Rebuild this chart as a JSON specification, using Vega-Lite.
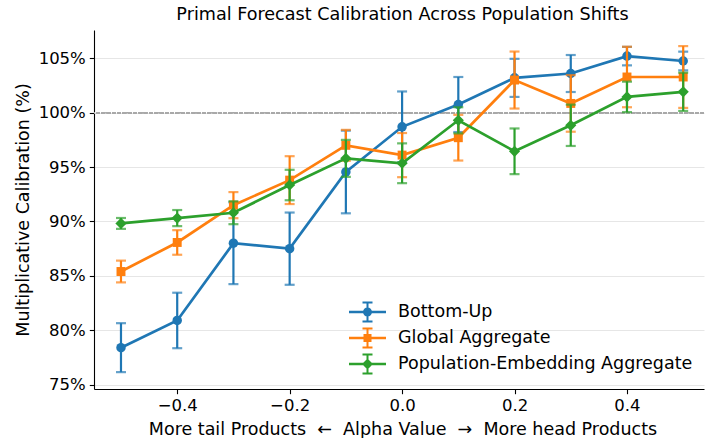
{
  "$schema": "https://vega.github.io/schema/vega-lite/v6.json",
  "width": 610,
  "height": 359,
  "padding": {"left": 14, "top": 6, "right": 0, "bottom": 0},
  "background": "white",
  "title": {
    "text": "Primal Forecast Calibration Across Population Shifts",
    "font": "DejaVu Sans",
    "fontSize": 17.6,
    "fontWeight": "normal",
    "color": "#000000",
    "offset": 6,
    "dx": 3.5
  },
  "config": {
    "view": {"stroke": null},
    "font": "DejaVu Sans",
    "axis": {
      "labelFont": "DejaVu Sans",
      "titleFont": "DejaVu Sans",
      "labelFontSize": 16.5,
      "titleFontSize": 17.5,
      "titleFontWeight": "normal",
      "labelColor": "#000000",
      "titleColor": "#000000",
      "domainColor": "#000000",
      "tickColor": "#000000",
      "domainWidth": 1.1,
      "tickWidth": 1.1,
      "tickSize": 4.7,
      "labelPadding": 4,
      "gridColor": "#e6e6e6",
      "gridWidth": 1
    },
    "legend": {
      "labelFont": "DejaVu Sans",
      "labelFontSize": 17.5,
      "labelColor": "#000000",
      "labelLimit": 400
    }
  },
  "resolve": {"legend": {"color": "independent", "shape": "independent"}},
  "data": {
    "values": [
      {"series": "Bottom-Up", "alpha": -0.5, "value": 78.4, "err": 2.25},
      {"series": "Bottom-Up", "alpha": -0.4, "value": 80.9, "err": 2.55},
      {"series": "Bottom-Up", "alpha": -0.3, "value": 88.0, "err": 3.76},
      {"series": "Bottom-Up", "alpha": -0.2, "value": 87.5, "err": 3.32},
      {"series": "Bottom-Up", "alpha": -0.1, "value": 94.55, "err": 3.8},
      {"series": "Bottom-Up", "alpha": 0.0, "value": 98.7, "err": 3.25},
      {"series": "Bottom-Up", "alpha": 0.1, "value": 100.75, "err": 2.53},
      {"series": "Bottom-Up", "alpha": 0.2, "value": 103.2, "err": 1.75},
      {"series": "Bottom-Up", "alpha": 0.3, "value": 103.6, "err": 1.7},
      {"series": "Bottom-Up", "alpha": 0.4, "value": 105.2, "err": 0.85},
      {"series": "Bottom-Up", "alpha": 0.5, "value": 104.75, "err": 0.86},
      {"series": "Global Aggregate", "alpha": -0.5, "value": 85.4, "err": 1.0},
      {"series": "Global Aggregate", "alpha": -0.4, "value": 88.07, "err": 1.13},
      {"series": "Global Aggregate", "alpha": -0.3, "value": 91.5, "err": 1.2},
      {"series": "Global Aggregate", "alpha": -0.2, "value": 93.8, "err": 2.2},
      {"series": "Global Aggregate", "alpha": -0.1, "value": 97.0, "err": 1.42},
      {"series": "Global Aggregate", "alpha": 0.0, "value": 96.1, "err": 2.03},
      {"series": "Global Aggregate", "alpha": 0.1, "value": 97.7, "err": 2.1},
      {"series": "Global Aggregate", "alpha": 0.2, "value": 103.0, "err": 2.62},
      {"series": "Global Aggregate", "alpha": 0.3, "value": 100.85, "err": 2.6},
      {"series": "Global Aggregate", "alpha": 0.4, "value": 103.28, "err": 2.78},
      {"series": "Global Aggregate", "alpha": 0.5, "value": 103.28, "err": 2.84},
      {"series": "Population-Embedding Aggregate", "alpha": -0.5, "value": 89.82, "err": 0.5},
      {"series": "Population-Embedding Aggregate", "alpha": -0.4, "value": 90.31, "err": 0.74},
      {"series": "Population-Embedding Aggregate", "alpha": -0.3, "value": 90.8, "err": 1.05},
      {"series": "Population-Embedding Aggregate", "alpha": -0.2, "value": 93.35, "err": 1.4},
      {"series": "Population-Embedding Aggregate", "alpha": -0.1, "value": 95.8, "err": 1.7},
      {"series": "Population-Embedding Aggregate", "alpha": 0.0, "value": 95.35, "err": 1.83},
      {"series": "Population-Embedding Aggregate", "alpha": 0.1, "value": 99.3, "err": 1.2},
      {"series": "Population-Embedding Aggregate", "alpha": 0.2, "value": 96.45, "err": 2.1},
      {"series": "Population-Embedding Aggregate", "alpha": 0.3, "value": 98.84, "err": 1.9},
      {"series": "Population-Embedding Aggregate", "alpha": 0.4, "value": 101.45, "err": 1.4},
      {"series": "Population-Embedding Aggregate", "alpha": 0.5, "value": 101.92, "err": 1.76}
    ]
  },
  "encoding": {
    "x": {
      "field": "alpha",
      "type": "quantitative",
      "scale": {"domain": [-0.548, 0.537], "nice": false, "zero": false},
      "axis": {
        "title": "More tail Products\u00a0\u00a0←\u00a0\u00a0Alpha Value\u00a0\u00a0→\u00a0\u00a0More head Products",
        "values": [-0.4, -0.2, 0, 0.2, 0.4],
        "labelExpr": "replace(format(datum.value, '.1f'), '-', '−')",
        "grid": false,
        "titlePadding": 6,
        "titleX": 308.5
      }
    },
    "y": {
      "field": "value",
      "type": "quantitative",
      "title": "Multiplicative Calibration (%)",
      "scale": {"domain": [74.6, 107.6], "nice": false, "zero": false},
      "axis": {
        "values": [75, 80, 85, 90, 95, 100, 105],
        "labelExpr": "datum.value + '%'",
        "grid": true,
        "titlePadding": 6
      }
    },
    "color": {
      "field": "series",
      "type": "nominal",
      "scale": {
        "domain": ["Bottom-Up", "Global Aggregate", "Population-Embedding Aggregate"],
        "range": ["#1f77b4", "#ff7f0e", "#2ca02c"]
      },
      "legend": null
    }
  },
  "layer": [
    {
      "mark": {"type": "rule", "color": "#aaaaaa", "strokeWidth": 1, "strokeDash": [3.7, 1.6]},
      "encoding": {"y": {"datum": 100}, "x": null, "color": null}
    },
    {
      "transform": [{"filter": {"field": "series", "equal": "Bottom-Up"}}],
      "layer": [
        {
          "mark": {"type": "errorbar", "ticks": true, "size": 10, "thickness": 2.2},
          "encoding": {"yError": {"field": "err"}}
        },
        {"mark": {"type": "line", "strokeWidth": 2.7}},
        {"mark": {"type": "point", "shape": "circle", "filled": true, "size": 90, "opacity": 1}}
      ]
    },
    {
      "transform": [{"filter": {"field": "series", "equal": "Global Aggregate"}}],
      "layer": [
        {
          "mark": {"type": "errorbar", "ticks": true, "size": 10, "thickness": 2.2},
          "encoding": {"yError": {"field": "err"}}
        },
        {"mark": {"type": "line", "strokeWidth": 2.7}},
        {"mark": {"type": "point", "shape": "square", "filled": true, "size": 80, "opacity": 1}}
      ]
    },
    {
      "transform": [{"filter": {"field": "series", "equal": "Population-Embedding Aggregate"}}],
      "layer": [
        {
          "mark": {"type": "errorbar", "ticks": true, "size": 10, "thickness": 2.2},
          "encoding": {"yError": {"field": "err"}}
        },
        {"mark": {"type": "line", "strokeWidth": 2.7}},
        {"mark": {"type": "point", "shape": "diamond", "filled": true, "size": 125, "opacity": 1}}
      ]
    },
    {
      "transform": [{"filter": "false"}],
      "mark": {"type": "point", "filled": true, "opacity": 1},
      "encoding": {
        "color": {
          "field": "series",
          "type": "nominal",
          "scale": {
            "domain": ["Bottom-Up", "Global Aggregate", "Population-Embedding Aggregate"],
            "range": ["#1f77b4", "#ff7f0e", "#2ca02c"]
          },
          "legend": {
            "title": null,
            "orient": "none",
            "legendX": 263.5,
            "legendY": 272,
            "padding": 0,
            "symbolSize": 400,
            "symbolStrokeWidth": 0,
            "symbolOpacity": 1,
            "labelOffset": 20.5,
            "rowPadding": 4
          }
        },
        "shape": {
          "field": "series",
          "type": "nominal",
          "scale": {
            "domain": ["Bottom-Up", "Global Aggregate", "Population-Embedding Aggregate"],
            "range": [
              "M-1.85,-0.13H1.85V0.13H-1.85Z M-0.1,-0.95H0.1V0.95H-0.1Z M-0.5,-1.05H0.5V-0.85H-0.5Z M-0.5,0.85H0.5V1.05H-0.5Z M-0.45,0A0.45,0.45 0 1,1 0.45,0A0.45,0.45 0 1,1 -0.45,0Z",
              "M-1.85,-0.13H1.85V0.13H-1.85Z M-0.1,-0.95H0.1V0.95H-0.1Z M-0.5,-1.05H0.5V-0.85H-0.5Z M-0.5,0.85H0.5V1.05H-0.5Z M-0.4,-0.4H0.4V0.4H-0.4Z",
              "M-1.85,-0.13H1.85V0.13H-1.85Z M-0.1,-0.95H0.1V0.95H-0.1Z M-0.5,-1.05H0.5V-0.85H-0.5Z M-0.5,0.85H0.5V1.05H-0.5Z M0,-0.55L0.55,0L0,0.55L-0.55,0Z"
            ]
          },
          "legend": {
            "title": null,
            "orient": "none",
            "legendX": 263.5,
            "legendY": 272,
            "padding": 0,
            "symbolSize": 400,
            "symbolStrokeWidth": 0,
            "symbolOpacity": 1,
            "labelOffset": 20.5,
            "rowPadding": 4
          }
        }
      }
    }
  ]
}
